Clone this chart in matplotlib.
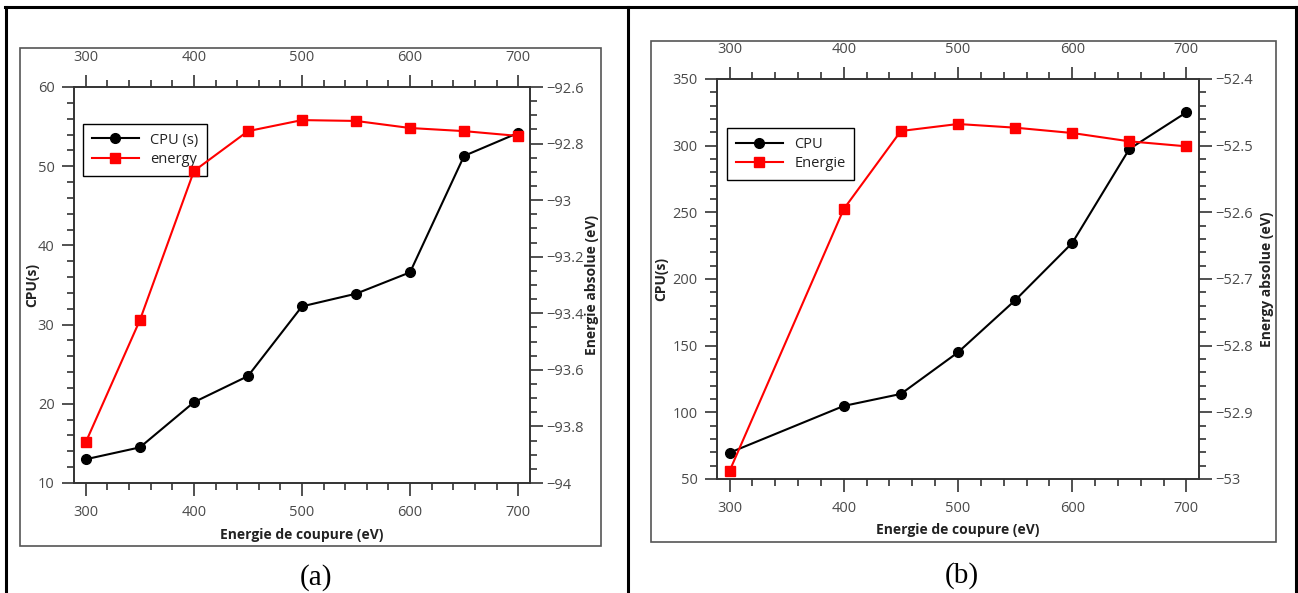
import matplotlib
matplotlib.use("Agg")
import matplotlib.pyplot as plt
from matplotlib.patches import Rectangle
from matplotlib.lines import Line2D
from matplotlib.ticker import MultipleLocator, FuncFormatter

plt.rcParams['font.family'] = ['Open Sans', 'DejaVu Sans']

# ---- data (a) ----
cutoff_a = [300, 350, 400, 450, 500, 550, 600, 650, 700]
cpu_a = [13.0, 14.5, 20.2, 23.5, 32.3, 33.9, 36.6, 51.3, 54.2]
energy_a = [-93.855, -93.424, -92.897, -92.756, -92.717, -92.720, -92.745, -92.756, -92.773]

# ---- data (b) ----
cutoff_b = [300, 400, 450, 500, 550, 600, 650, 700]
cpu_b = [69.7, 104.8, 113.8, 145.0, 184.0, 227.0, 297.5, 325.0]
energy_b = [-52.988, -52.595, -52.478, -52.4675, -52.473, -52.481, -52.4935, -52.501]

W, H = 1298, 593
fig = plt.figure(figsize=(W / 100, H / 100), dpi=100)

def fx(px):
    return px / W

def fy(py):
    return 1 - py / H

# outer table lines
for (x0, y0, x1, y1) in [(5, 7, 1296, 7), (6, 7, 6, 593), (628, 7, 628, 593), (1296, 7, 1296, 593)]:
    fig.add_artist(Line2D([fx(x0), fx(x1)], [fy(y0), fy(y1)], color='black', lw=2.2,
                          transform=fig.transFigure))

# gray frames
for (x0, y0, x1, y1) in [(20, 48, 601, 546), (651, 41, 1276, 542)]:
    fig.add_artist(Rectangle((fx(x0), fy(y1)), fx(x1) - fx(x0), fy(y0) - fy(y1),
                             transform=fig.transFigure, fill=False, edgecolor='#555555', lw=1.2))

spine_c = '#333333'
tick_c = '#4a4a4a'
TS = 10.5

def make_panel(rect, xs, cpu, en, ylim1, ylim2, ymaj1, ymin1, ymaj2, ymin2,
               lab_cpu, lab_en, ylabel_r, leg_anchor, ylabelx_l, ylabelx_r, xlabel_y):
    ax = fig.add_axes(rect)
    ax2 = ax.twinx()
    ax.set_xlim(289, 711)
    ax.set_ylim(*ylim1)
    ax2.set_ylim(*ylim2)
    l1, = ax.plot(xs, cpu, color='black', marker='o', ms=7, lw=1.5, label=lab_cpu, zorder=3)
    l2, = ax2.plot(xs, en, color='red', marker='s', ms=7, lw=1.5, label=lab_en, zorder=3)
    ax.xaxis.set_major_locator(MultipleLocator(100))
    ax.xaxis.set_minor_locator(MultipleLocator(20))
    ax.yaxis.set_major_locator(MultipleLocator(ymaj1))
    ax.yaxis.set_minor_locator(MultipleLocator(ymin1))
    ax2.yaxis.set_major_locator(MultipleLocator(ymaj2))
    ax2.yaxis.set_minor_locator(MultipleLocator(ymin2))
    for a in (ax, ax2):
        for s in a.spines.values():
            s.set_color(spine_c)
            s.set_linewidth(1.2)
    ax.tick_params(axis='x', which='both', direction='out', top=True, labeltop=True,
                   bottom=True, labelbottom=True, colors=spine_c, labelcolor=tick_c,
                   labelsize=TS, pad=7)
    ax.tick_params(axis='y', which='both', direction='out', left=True, right=False,
                   colors=spine_c, labelcolor=tick_c, labelsize=TS, pad=5)
    ax2.tick_params(axis='y', which='both', direction='out', right=True, left=False,
                    colors=spine_c, labelcolor=tick_c, labelsize=TS, pad=3)
    for a in (ax, ax2):
        a.tick_params(which='major', length=9, width=1.2)
        a.tick_params(which='minor', length=5, width=1.2)
    fmt = lambda v, p: ('%g' % v).replace('-', '\u2212')
    ax2.yaxis.set_major_formatter(FuncFormatter(fmt))
    fig.text(rect[0] + rect[2] / 2, fy(xlabel_y), 'Energie de coupure (eV)', ha='center', va='center',
             fontsize=10, fontweight='bold', color='#222222')
    fig.text(fx(ylabelx_l), rect[1] + rect[3] / 2, 'CPU(s)', rotation=90, ha='center', va='center',
             fontsize=10, fontweight='bold', color='#222222')
    fig.text(fx(ylabelx_r), rect[1] + rect[3] / 2, ylabel_r, rotation=90, ha='center', va='center',
             fontsize=10, fontweight='bold', color='#222222')
    leg = ax2.legend([l1, l2], [lab_cpu, lab_en], loc='upper left', bbox_to_anchor=leg_anchor,
                     borderaxespad=0, fancybox=False, framealpha=1, edgecolor='black',
                     fontsize=10.5, handlelength=3.2, borderpad=0.6, labelspacing=0.3)
    leg.get_frame().set_linewidth(1.0)
    leg.set_zorder(1)
    for t in leg.get_texts():
        t.set_color('#222222')
    return ax, ax2

make_panel([fx(74), fy(483), fx(530) - fx(74), fy(87) - fy(483)],
           cutoff_a, cpu_a, energy_a, (10, 60), (-94, -92.6), 10, 2, 0.2, 0.05,
           'CPU (s)', 'energy', 'Energie absolue (eV)', (0.02, 0.907), 32, 592, 535)

make_panel([fx(717), fy(479), fx(1199) - fx(717), fy(79) - fy(479)],
           cutoff_b, cpu_b, energy_b, (50, 350), (-53, -52.4), 50, 10, 0.1, 0.02,
           'CPU', 'Energie', 'Energy absolue (eV)', (0.021, 0.877), 661, 1267, 530)

fig.text(fx(316), fy(578), '(a)', ha='center', va='center', fontsize=21,
         family=['Liberation Serif', 'DejaVu Serif'])
fig.text(fx(962), fy(576), '(b)', ha='center', va='center', fontsize=21,
         family=['Liberation Serif', 'DejaVu Serif'])

fig.savefig('out.png', dpi=100)
